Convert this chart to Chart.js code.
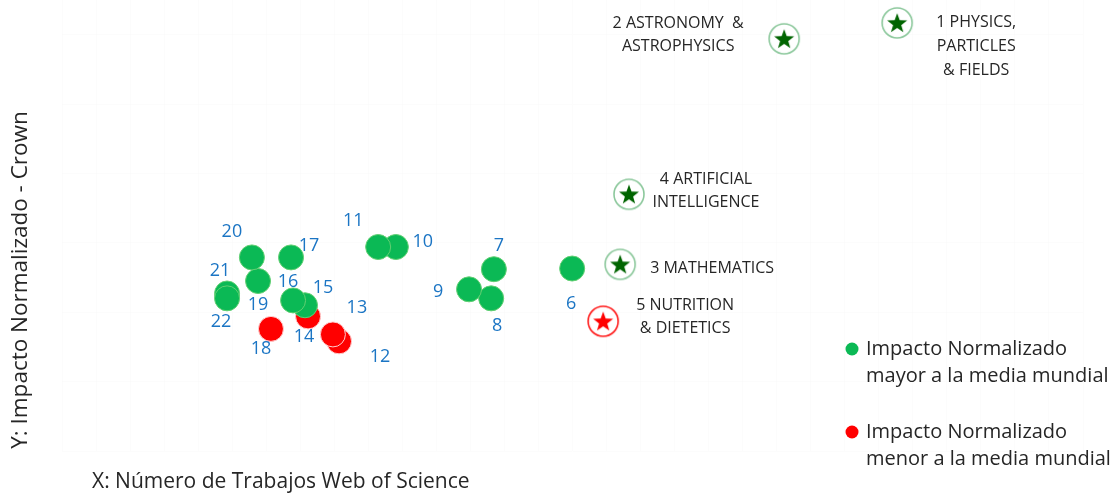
<!DOCTYPE html>
<html>
<head>
<meta charset="utf-8">
<script src="https://cdn.jsdelivr.net/npm/chart.js@4"></script>
<style>
    body { margin: 0; background: #fff; }
    canvas { display: block; }
</style>
</head>
<body>
<canvas id="scatterChart" width="1119" height="495"></canvas>
<script>
// Data: ranking of areas, X = number of WoS papers, Y = normalized impact (Crown)
const ranks = [1, 2, 3, 4, 5, 6, 7, 8, 9, 10, 11, 12, 13, 14, 15, 16, 17, 18, 19, 20, 21, 22];
const trabajos = [24.54, 21.22, 16.40, 16.66, 15.90, 14.99, 12.69, 12.61, 11.96, 9.81, 9.29,
                  8.14, 7.96, 7.23, 7.14, 6.79, 6.73, 6.14, 5.76, 5.58, 4.85, 4.85];
const impacto = [6.17, 5.94, 2.69, 3.70, 1.87, 2.63, 2.62, 2.20, 2.33, 2.94, 2.94,
                 1.58, 1.68, 1.94, 2.10, 2.17, 2.79, 1.76, 2.45, 2.79, 2.27, 2.20];
const mayorMedia = [true, true, true, true, false, true, true, true, true, true, true,
                    false, false, false, true, true, true, false, true, true, true, true];
const areaNames = ['1 PHYSICS,|PARTICLES|& FIELDS', '2 ASTRONOMY  &|ASTROPHYSICS', '3 MATHEMATICS',
                   '4 ARTIFICIAL|INTELLIGENCE', '5 NUTRITION|& DIETETICS'];
const topAreas = 5;
const legendTexts = ['Impacto Normalizado|mayor a la media mundial', 'Impacto Normalizado|menor a la media mundial'];
const xTitle = 'X: Número de Trabajos Web of Science';
const yTitle = 'Y: Impacto Normalizado - Crown';

// label placement (pixels from the point), same order as ranks
const labelOffsets = [[79, 0], [-106, -4], [92, 4], [77, -3], [82, -4],
    [-1, 35], [5, -23], [6, 28], [-31, 3], [27, -5], [-25, -26],
    [41, 16], [24, -27], [-4, 20], [18, -17], [-5, -19], [18, -12], [-10, 20], [0, 24], [-20, -26], [-7, -23], [-6, 24]];

const GREEN = '#0bb955';
const RED = '#ff0000';
const FONT = '"Open Sans", "Noto Sans", sans-serif';

function starIcon(ringColor, starColor) {
    const c = document.createElement('canvas');
    c.width = 34; c.height = 34;
    const g = c.getContext('2d');
    g.beginPath();
    g.arc(17, 17, 15, 0, Math.PI * 2);
    g.fillStyle = '#fff';
    g.fill();
    g.lineWidth = 1.6;
    g.strokeStyle = ringColor;
    g.stroke();
    g.beginPath();
    for (let i = 0; i < 10; i++) {
        const r = i % 2 === 0 ? 10.5 : 4.3;
        const a = -Math.PI / 2 + i * Math.PI / 5;
        g.lineTo(17 + r * Math.cos(a), 17.8 + r * Math.sin(a));
    }
    g.closePath();
    g.fillStyle = starColor;
    g.fill();
    return c;
}

const greenStar = starIcon('#8cc89c', '#006400');
const redStar = starIcon('#ff1a1a', '#ff0000');

function pick(test) {
    const idx = ranks.map((r, i) => i).filter(test);
    return {
        idx: idx,
        data: idx.map(i => ({ x: trabajos[i], y: impacto[i] }))
    };
}

const starsGreen = pick(i => i < topAreas && mayorMedia[i]);
const starsRed = pick(i => i < topAreas && !mayorMedia[i]);
const dotsGreen = pick(i => i >= topAreas && mayorMedia[i]);
const dotsRed = pick(i => i >= topAreas && !mayorMedia[i]);

const labelPlugin = {
    id: 'pointLabels',
    afterDatasetsDraw(chart) {
        const ctx = chart.ctx;
        ctx.save();
        ctx.textAlign = 'center';
        ctx.textBaseline = 'middle';
        chart.data.datasets.forEach((ds, d) => {
            const meta = chart.getDatasetMeta(d);
            meta.data.forEach((pt, j) => {
                const i = ds.idx[j];
                const off = labelOffsets[i];
                const cx = pt.x + off[0];
                const cy = pt.y + off[1];
                if (i < topAreas) {
                    const lines = areaNames[i].split('|');
                    ctx.font = '16px ' + FONT;
                    ctx.fillStyle = '#262626';
                    const start = cy - (lines.length - 1) * 23 / 2;
                    if (i === 0) {
                        lines.forEach((l, k) => ctx.fillText(l, cx, pt.y + k * 24));
                    } else {
                        lines.forEach((l, k) => ctx.fillText(l, cx, start + k * 23));
                    }
                } else {
                    ctx.font = '18px ' + FONT;
                    ctx.fillStyle = '#1b75c4';
                    ctx.fillText(String(ranks[i]), cx, cy);
                }
            });
        });
        ctx.restore();
    }
};

const decorPlugin = {
    id: 'decor',
    afterDraw(chart) {
        const ctx = chart.ctx;
        ctx.save();
        // axis titles
        ctx.fillStyle = '#262626';
        ctx.font = '21px ' + FONT;
        ctx.textBaseline = 'middle';
        ctx.textAlign = 'left';
        ctx.fillText(xTitle, 92, 482);
        ctx.font = '22.5px ' + FONT;
        ctx.translate(21, 280);
        ctx.rotate(-Math.PI / 2);
        ctx.textAlign = 'center';
        ctx.fillText(yTitle, 0, 0);
        ctx.restore();

        // legend
        ctx.save();
        ctx.font = '20px ' + FONT;
        ctx.textBaseline = 'middle';
        ctx.textAlign = 'left';
        [[GREEN, 349], [RED, 432]].forEach((item, k) => {
            ctx.beginPath();
            ctx.arc(852, item[1], 6.5, 0, Math.PI * 2);
            ctx.fillStyle = item[0];
            ctx.fill();
            ctx.fillStyle = '#262626';
            legendTexts[k].split('|').forEach((l, n) => ctx.fillText(l, 866, item[1] + n * 27));
        });
        ctx.restore();
    }
};

document.addEventListener("DOMContentLoaded", function() {
    const ctx = document.getElementById('scatterChart').getContext('2d');
    const chart = new Chart(ctx, {
        type: 'scatter',
        data: {
            datasets: [
                {
                    label: 'mayor',
                    idx: dotsGreen.idx,
                    data: dotsGreen.data,
                    pointRadius: 12.5,
                    backgroundColor: GREEN,
                    borderColor: '#62cf72',
                    borderWidth: 1
                },
                {
                    label: 'menor',
                    idx: dotsRed.idx,
                    data: dotsRed.data,
                    pointRadius: 12.5,
                    backgroundColor: RED,
                    borderColor: '#ffd0d0',
                    borderWidth: 1
                },
                {
                    label: 'top mayor',
                    idx: starsGreen.idx,
                    data: starsGreen.data,
                    pointStyle: greenStar
                },
                {
                    label: 'top menor',
                    idx: starsRed.idx,
                    data: starsRed.data,
                    pointStyle: redStar
                }
            ]
        },
        options: {
            responsive: false,
            animation: false,
            clip: false,
            layout: {
                autoPadding: false,
                padding: { left: 62, right: 36, top: 0, bottom: 44 }
            },
            plugins: {
                legend: { display: false },
                tooltip: { enabled: false }
            },
            scales: {
                x: {
                    min: 0,
                    max: 30,
                    border: { display: false },
                    grid: { color: 'rgba(0,0,0,0.012)', drawTicks: false },
                    ticks: { display: false, stepSize: 1 }
                },
                y: {
                    min: 0,
                    max: 6.5,
                    border: { display: false },
                    grid: { color: 'rgba(0,0,0,0.012)', drawTicks: false },
                    ticks: { display: false, stepSize: 1, includeBounds: false }
                }
            }
        },
        plugins: [labelPlugin, decorPlugin]
    });
});
</script>
</body>
</html>
